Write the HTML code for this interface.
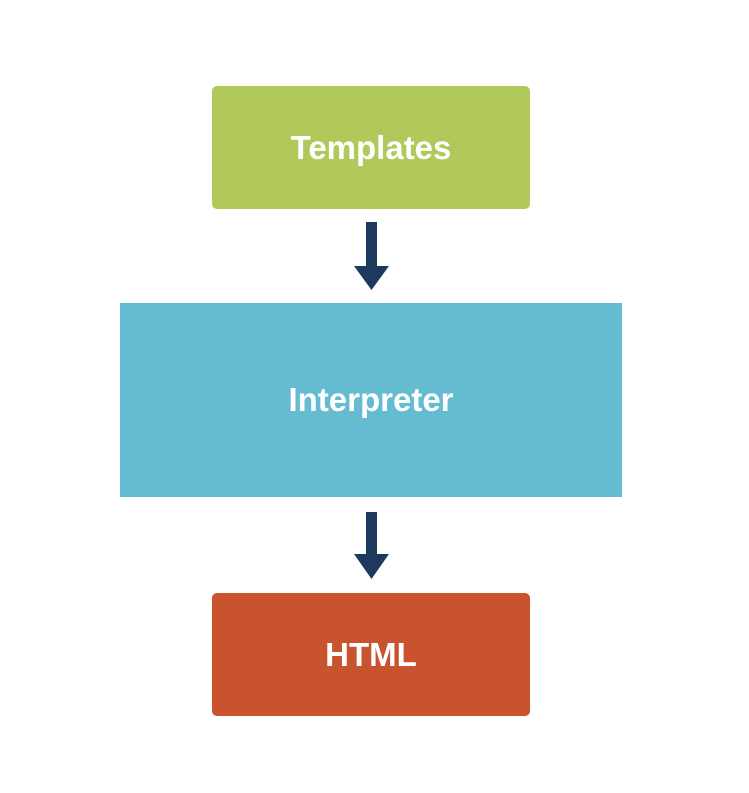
<!DOCTYPE html>
<html><head><style>
body{margin:0;width:749px;height:793px;background:#fff;position:relative;overflow:hidden;font-family:"Liberation Sans",sans-serif;}
.b{position:absolute;display:flex;align-items:center;justify-content:center;color:#fff;font-weight:bold;font-size:33px;}
</style></head><body>
<div class="b" style="left:212px;top:86px;width:318px;height:123px;background:#b0c95a;border-radius:5px;">Templates</div>
<div class="b" style="left:120px;top:303px;width:502px;height:194px;background:#65bcd1;">Interpreter</div>
<div class="b" style="left:212px;top:593px;width:318px;height:123px;background:#c8532e;border-radius:5px;">HTML</div>
<svg width="749" height="793" style="position:absolute;left:0;top:0">
<rect x="366" y="222" width="11" height="46" fill="#1d3a5e"/>
<polygon points="354,266 389,266 371.5,290" fill="#1d3a5e"/>
<rect x="366" y="512" width="11" height="44" fill="#1d3a5e"/>
<polygon points="354,554 389,554 371.5,579" fill="#1d3a5e"/>
</svg>
</body></html>
